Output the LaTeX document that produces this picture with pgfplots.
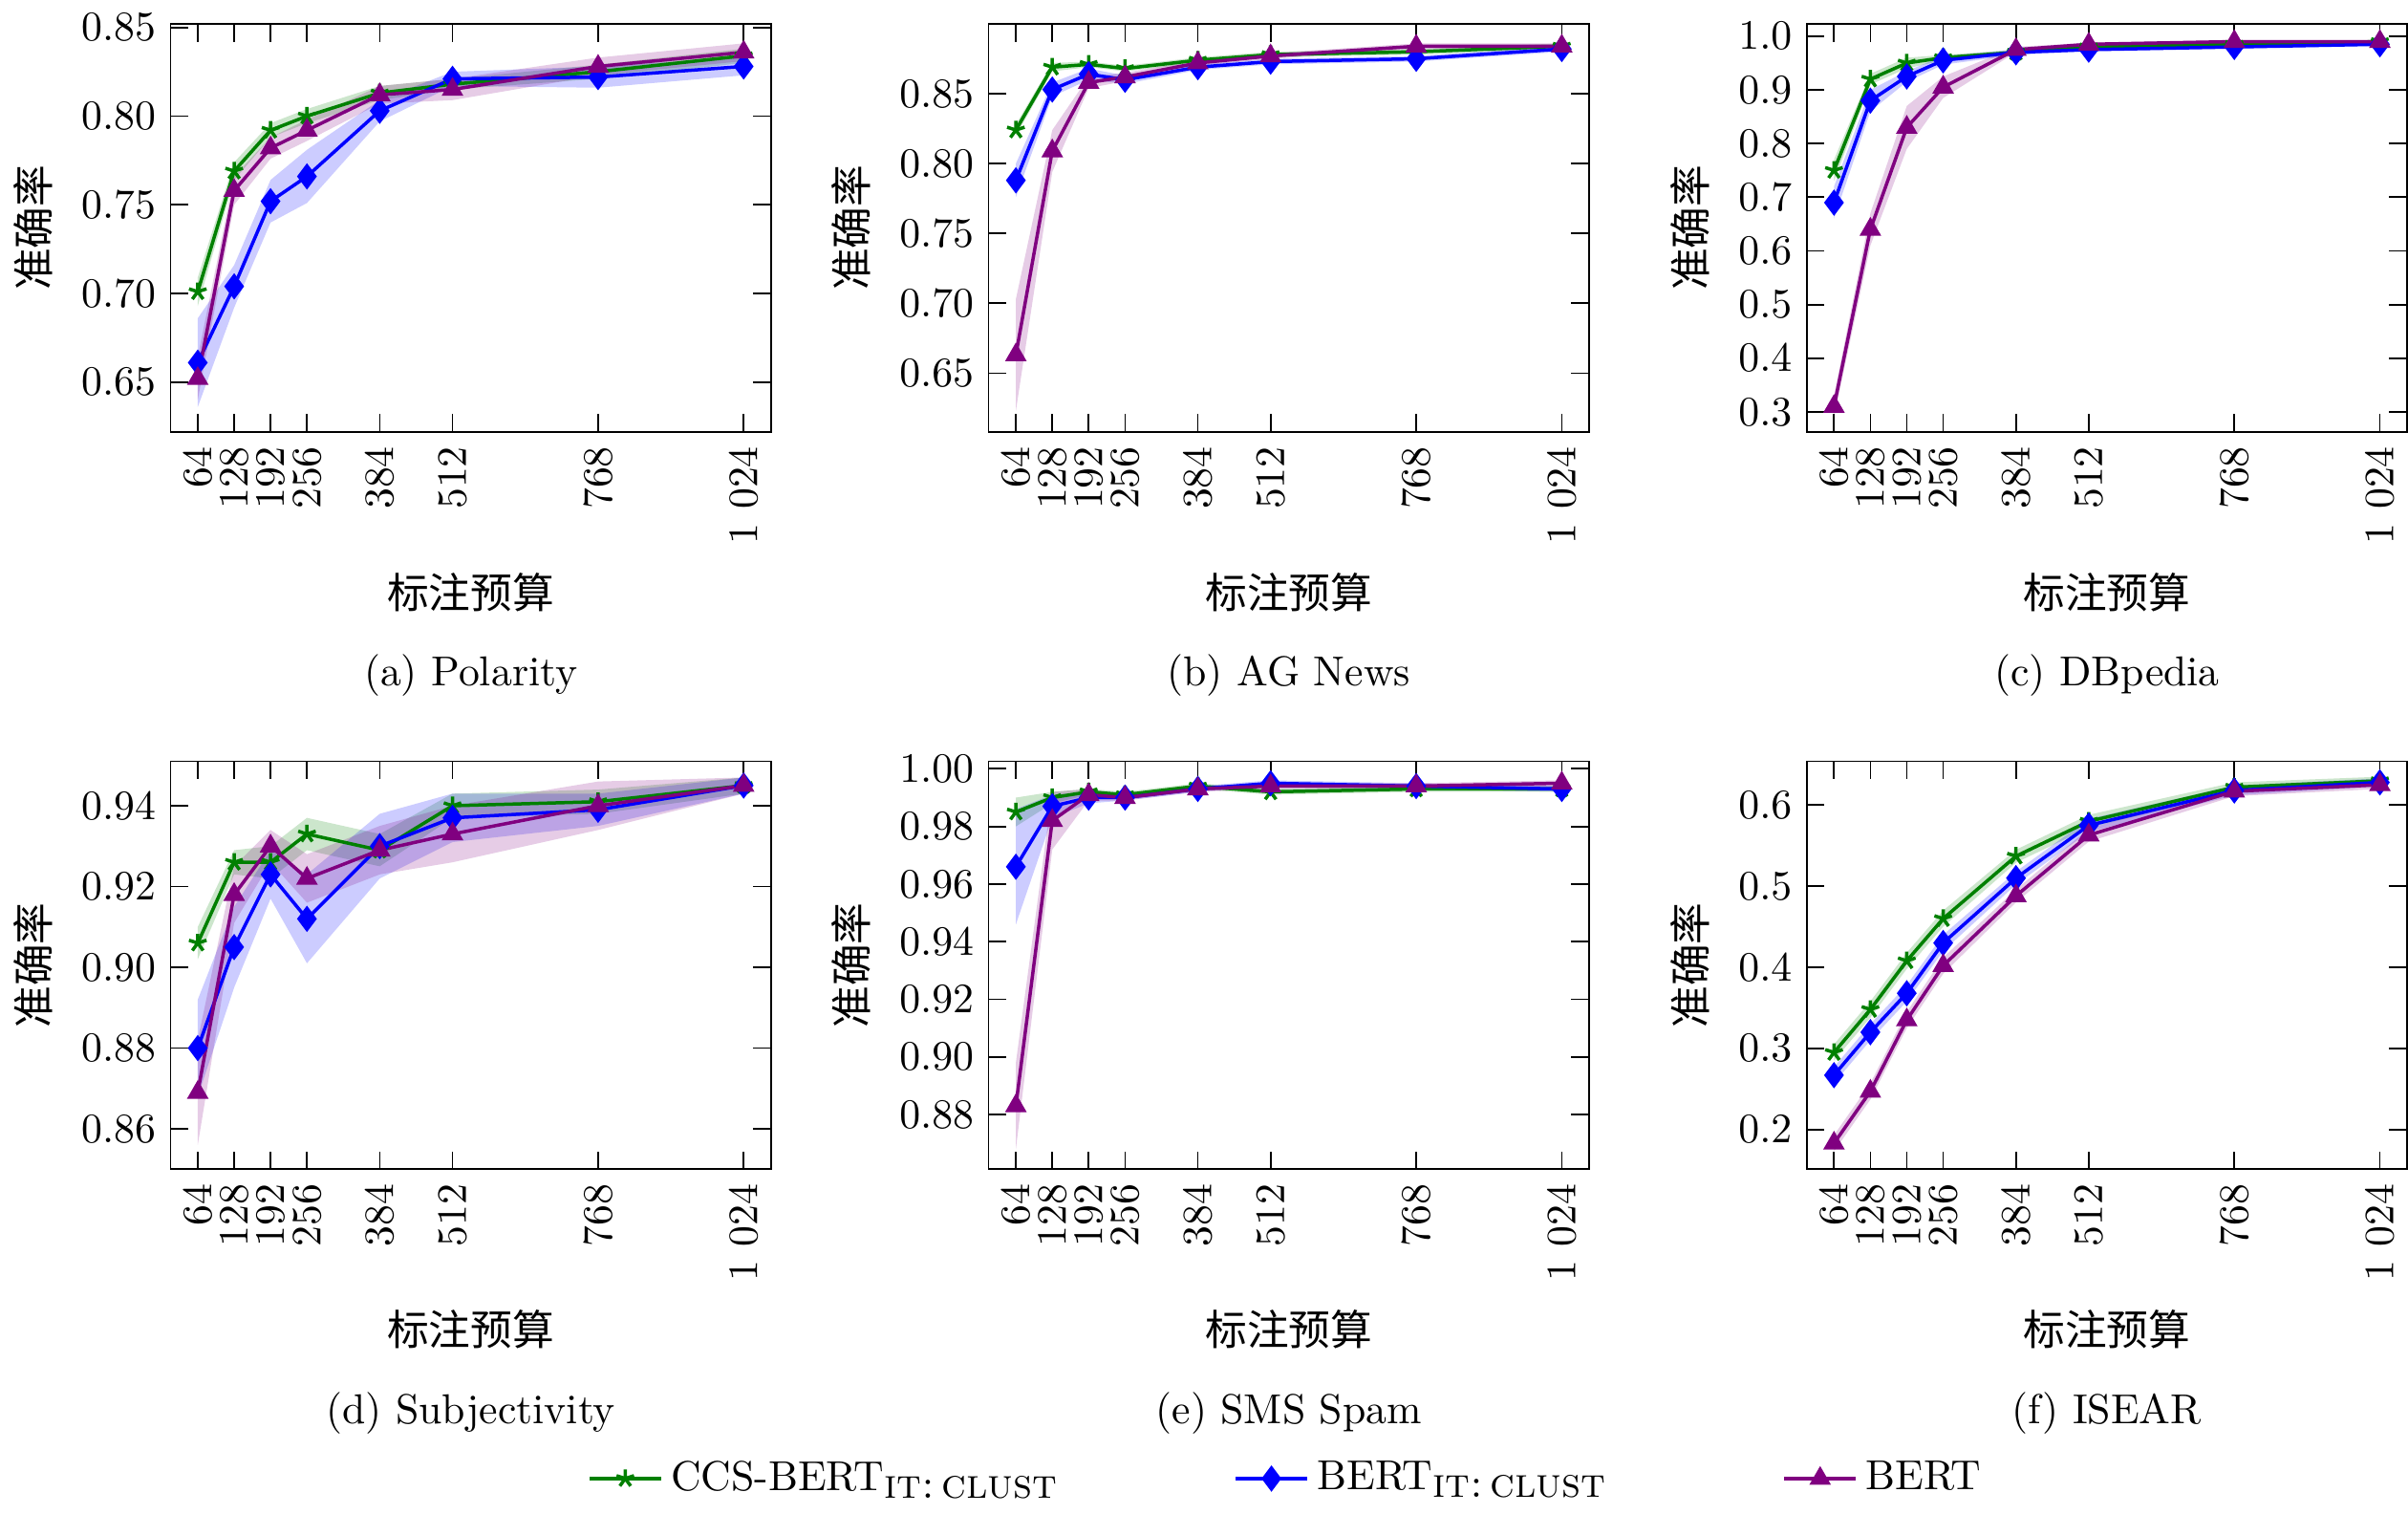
\documentclass[border=0pt]{standalone}
\usepackage{pgfplots}
\pgfplotsset{compat=1.18}
\usepackage{pgfplotstable}
\usepgfplotslibrary{groupplots,fillbetween}
\usepackage{fontspec}
\newfontfamily\cjk{Noto Sans CJK SC}
\definecolor{cg}{RGB}{0,128,0}
\definecolor{cb}{RGB}{0,0,255}
\definecolor{cp}{RGB}{128,0,128}
\pgfplotstableread{
x c cs b bs r rs
64 .701 .008 .661 .025 .652 .012
128 .769 .005 .704 .012 .758 .008
192 .792 .004 .752 .012 .782 .006
256 .800 .004 .766 .015 .792 .006
384 .813 .004 .803 .006 .812 .005
512 .818 .003 .821 .004 .815 .006
768 .825 .004 .822 .006 .828 .005
1024 .834 .004 .828 .005 .836 .005
}\Ta
\pgfplotstableread{
x c cs b bs r rs
64 .824 .004 .788 .012 .663 .040
128 .869 .003 .853 .005 .809 .015
192 .871 .002 .864 .004 .858 .004
256 .868 .002 .860 .003 .862 .003
384 .874 .002 .869 .002 .872 .002
512 .878 .002 .873 .002 .877 .002
768 .880 .002 .875 .002 .884 .002
1024 .884 .002 .882 .002 .884 .002
}\Tb
\pgfplotstableread{
x c cs b bs r rs
64 .75 .02 .69 .03 .31 .02
128 .92 .01 .88 .02 .64 .03
192 .95 .01 .925 .01 .83 .04
256 .96 .005 .955 .008 .905 .02
384 .97 .005 .97 .005 .975 .005
512 .98 .003 .975 .003 .985 .003
768 .985 .003 .98 .003 .99 .003
1024 .99 .003 .985 .003 .99 .003
}\Tc
\pgfplotstableread{
x c cs b bs r rs
64 .906 .004 .880 .012 .869 .013
128 .926 .003 .905 .010 .918 .007
192 .926 .004 .923 .006 .930 .004
256 .933 .004 .912 .011 .922 .006
384 .929 .004 .930 .008 .929 .006
512 .940 .003 .937 .006 .933 .007
768 .941 .003 .939 .004 .940 .006
1024 .945 .002 .945 .002 .945 .002
}\Td
\pgfplotstableread{
x c cs b bs r rs
64 .985 .005 .966 .020 .883 .015
128 .990 .002 .987 .004 .982 .010
192 .992 .001 .990 .002 .991 .002
256 .991 .001 .990 .001 .990 .001
384 .994 .001 .993 .001 .993 .001
512 .992 .001 .995 .001 .994 .001
768 .993 .001 .994 .001 .994 .001
1024 .993 .001 .993 .001 .995 .001
}\Te
\pgfplotstableread{
x c cs b bs r rs
64 .295 .010 .267 .010 .183 .010
128 .348 .010 .320 .010 .247 .010
192 .408 .010 .368 .010 .335 .010
256 .460 .010 .430 .010 .402 .010
384 .537 .008 .510 .008 .488 .008
512 .580 .008 .575 .008 .563 .008
768 .622 .006 .618 .006 .617 .006
1024 .630 .005 .628 .005 .625 .005
}\Tf
\newcommand{\band}[4]{%
\addplot[draw=none, name path=U#2, forget plot] table[x=x, y expr=\thisrow{#2}+\thisrow{#3}] {#1};
\addplot[draw=none, name path=L#2, forget plot] table[x=x, y expr=\thisrow{#2}-\thisrow{#3}] {#1};
\addplot[fill=#4, fill opacity=0.2, draw=none, forget plot] fill between[of=U#2 and L#2];}
\newcommand{\allplots}[1]{%
\band{#1}{c}{cs}{cg}\band{#1}{b}{bs}{cb}\band{#1}{r}{rs}{cp}%
\addplot[cg, thick, mark=star, mark size=2.2pt] table[x=x,y=c]{#1};
\addplot[cb, thick, mark=diamond*, mark size=2.5pt] table[x=x,y=b]{#1};
\addplot[cp, thick, mark=triangle*, mark size=2.2pt] table[x=x,y=r]{#1};}
\begin{document}
\begin{tikzpicture}
\begin{groupplot}[group style={group size=3 by 2, horizontal sep=1.83cm, vertical sep=2.77cm, group name=G},
 scale only axis, width=5.05cm, height=3.43cm,
 xmin=16, xmax=1072, xtick={64,128,192,256,384,512,768,1024},
 xticklabel style={rotate=90, anchor=east},
 /pgf/number format/1000 sep={\ },
 xlabel={\cjk 标注预算}, ylabel={\cjk 准确率},
 tick align=inside, every tick/.style={black}]
\nextgroupplot[ymin=.622, ymax=.852, ytick={.65,.70,.75,.80,.85}, yticklabel style={/pgf/number format/.cd,fixed,fixed zerofill,precision=2}]
\allplots{\Ta}
\nextgroupplot[ymin=.608, ymax=.9, ytick={.65,.70,.75,.80,.85}, yticklabel style={/pgf/number format/.cd,fixed,fixed zerofill,precision=2}]
\allplots{\Tb}
\nextgroupplot[ymin=.263, ymax=1.023, ytick={.3,.4,.5,.6,.7,.8,.9,1.0}, yticklabel style={/pgf/number format/.cd,fixed,fixed zerofill,precision=1}]
\allplots{\Tc}
\nextgroupplot[ymin=.850, ymax=.951, ytick={.86,.88,.90,.92,.94}, yticklabel style={/pgf/number format/.cd,fixed,fixed zerofill,precision=2}]
\allplots{\Td}
\nextgroupplot[ymin=.861, ymax=1.0026, ytick={.88,.90,.92,.94,.96,.98,1.00}, yticklabel style={/pgf/number format/.cd,fixed,fixed zerofill,precision=2},
 legend columns=3, legend style={draw=none, at={(0.5,0)}, anchor=center, yshift=-2.6cm, /tikz/every even column/.append style={column sep=1.4cm}}]
\allplots{\Te}
\legend{CCS-BERT$_{\textsc{it:\,clust}}$, BERT$_{\textsc{it:\,clust}}$, BERT}
\nextgroupplot[ymin=.151, ymax=.654, ytick={.2,.3,.4,.5,.6}, yticklabel style={/pgf/number format/.cd,fixed,fixed zerofill,precision=1}]
\allplots{\Tf}
\end{groupplot}
\node at ([yshift=-2.05cm]G c1r1.south) {(a) Polarity};
\node at ([yshift=-2.05cm]G c2r1.south) {(b) AG News};
\node at ([yshift=-2.05cm]G c3r1.south) {(c) DBpedia};
\node at ([yshift=-2.05cm]G c1r2.south) {(d) Subjectivity};
\node at ([yshift=-2.05cm]G c2r2.south) {(e) SMS Spam};
\node at ([yshift=-2.05cm]G c3r2.south) {(f) ISEAR};
\end{tikzpicture}
\end{document}
